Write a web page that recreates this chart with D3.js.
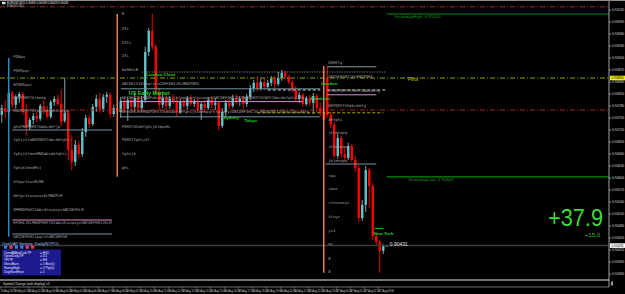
<!DOCTYPE html>
<html>
<head>
<meta charset="utf-8">
<script src="https://cdn.jsdelivr.net/npm/d3@7"></script>
<style>
body { margin: 0; background: #000; }
svg { display: block; }
</style>
</head>
<body>
<div id="chart"></div>
<script>
const width = 625
const height = 294
const axisX = 609
const chartTop = 2
const chartBottom = 279

// EURUSD M15 quotes, in points (1 point = 0.00001)
const opens = [90758, 90775, 90765, 90813, 90783, 90803, 90810, 90765, 90728, 90745,
    90755, 90748, 90780, 90770, 90753, 90790, 90798, 90785, 90743, 90763,
    90670, 90640, 90683, 90660, 90715, 90750, 90735, 90778, 90798, 90773,
    90803, 90808, 90760, 90775, 90765, 90793, 90773, 90795, 90778, 90800,
    90775, 90795, 90915, 90968, 90928, 90815, 90783, 90800, 90780, 90798,
    90793, 90765, 90790, 90780, 90798, 90785, 90793, 90770, 90785, 90775,
    90795, 90783, 90788, 90730, 90765, 90788, 90780, 90800, 90790, 90798,
    90785, 90803, 90825, 90838, 90823, 90840, 90828, 90838, 90848, 90835,
    90850, 90863, 90853, 90840, 90820, 90798, 90808, 90785, 90800, 90788,
    90805, 90775, 90763, 90850, 90758, 90733, 90655, 90700, 90660, 90650,
    90680, 90645, 90625, 90500, 90533, 90620, 90580, 90455, 90440, 90418,
    90430]
const highs = [90783, 90795, 90820, 90818, 90808, 90815, 90815, 90785, 90750, 90763,
    90765, 90785, 90795, 90780, 90795, 90805, 90808, 90820, 90850, 90768,
    90708, 90695, 90693, 90725, 90758, 90758, 90785, 90808, 90813, 90810,
    90815, 90813, 90783, 90785, 90803, 90800, 90800, 90803, 90813, 90805,
    90805, 90928, 90975, 91010, 90935, 90825, 90808, 90808, 90805, 90810,
    90803, 90798, 90800, 90805, 90808, 90798, 90800, 90790, 90795, 90803,
    90805, 90800, 90793, 90775, 90795, 90798, 90808, 90810, 90805, 90805,
    90810, 90833, 90845, 90853, 90848, 90850, 90845, 90855, 90855, 90865,
    90870, 90868, 90858, 90845, 90830, 90815, 90813, 90805, 90808, 90813,
    90810, 90788, 90770, 90880, 90765, 90740, 90710, 90705, 90680, 90688,
    90685, 90655, 90633, 90545, 90630, 90625, 90588, 90460, 90445, 90435,
    90433]
const lows = [90738, 90750, 90753, 90775, 90773, 90788, 90758, 90708, 90720, 90735,
    90740, 90743, 90760, 90748, 90748, 90780, 90780, 90730, 90738, 90645,
    90620, 90630, 90650, 90653, 90703, 90725, 90730, 90765, 90763, 90765,
    90788, 90750, 90753, 90758, 90750, 90765, 90743, 90770, 90765, 90765,
    90765, 90788, 90905, 90920, 90810, 90770, 90775, 90770, 90773, 90785,
    90753, 90760, 90775, 90770, 90780, 90778, 90763, 90745, 90765, 90770,
    90775, 90770, 90718, 90725, 90755, 90773, 90775, 90783, 90780, 90775,
    90778, 90795, 90815, 90815, 90818, 90820, 90823, 90830, 90825, 90830,
    90843, 90848, 90835, 90813, 90793, 90788, 90778, 90780, 90780, 90760,
    90765, 90755, 90740, 90750, 90725, 90650, 90648, 90650, 90643, 90645,
    90640, 90615, 90490, 90493, 90515, 90525, 90445, 90433, 90363, 90410,
    90428]
const closes = [90775, 90765, 90813, 90783, 90803, 90810, 90765, 90728, 90745, 90755,
    90748, 90780, 90770, 90753, 90790, 90798, 90785, 90740, 90763, 90670,
    90640, 90683, 90660, 90715, 90750, 90735, 90778, 90798, 90773, 90803,
    90808, 90760, 90775, 90765, 90793, 90773, 90795, 90778, 90800, 90775,
    90795, 90915, 90968, 90928, 90820, 90783, 90800, 90780, 90798, 90793,
    90765, 90790, 90780, 90798, 90785, 90793, 90770, 90785, 90775, 90795,
    90783, 90788, 90730, 90765, 90788, 90780, 90800, 90790, 90798, 90785,
    90803, 90825, 90838, 90823, 90840, 90828, 90838, 90848, 90835, 90850,
    90863, 90853, 90840, 90820, 90798, 90808, 90785, 90800, 90788, 90805,
    90775, 90763, 90745, 90758, 90733, 90655, 90700, 90660, 90650, 90680,
    90645, 90625, 90500, 90533, 90620, 90580, 90455, 90440, 90418, 90430,
    90431]

const priceTicks = [91020, 90990, 90960, 90930, 90900, 90870, 90840, 90810, 90780, 90750,
    90720, 90690, 90660, 90630, 90600, 90570, 90540, 90510, 90480, 90450, 90420, 90390, 90360]
const pivotPrice = 90850
const bidPrice = 90431
const yHigh = 91010
const yLow = 90603

// one label every 4 bars
const timeLabels = ["26 Aug 2013", "26 Aug 01:00", "26 Aug 02:00", "26 Aug 03:00", "26 Aug 04:00",
    "26 Aug 05:00", "26 Aug 06:00", "26 Aug 07:00", "26 Aug 08:00", "26 Aug 09:00", "26 Aug 10:00",
    "26 Aug 11:00", "26 Aug 12:00", "26 Aug 13:00", "26 Aug 14:00", "26 Aug 15:00", "26 Aug 16:00",
    "26 Aug 17:00", "26 Aug 18:00", "26 Aug 19:00", "26 Aug 20:00", "26 Aug 21:00", "26 Aug 22:00",
    "26 Aug 23:00", "27 Aug 00:00", "27 Aug 01:00", "27 Aug 02:00", "27 Aug 03:00"]

// horizontal objects: price, first bar, last bar, kind
const levels = [
    [91028, -0.5, 173.5, "redDash"],
    [yHigh, 110, 173.5, "green"],
    [90878, 93, 107, "gray"],
    [90865, 40, 110, "dotted"],
    [pivotPrice, -0.5, 173.5, "pivot"],
    [90823, 34, 91, "slate"],
    [90820, 76, 91, "lightDash"],
    [90820, 93, 110, "lightDash"],
    [90808, 93, 107, "pink"],
    [90791, 34, 86, "pink"],
    [90770, -0.5, 173.5, "redDash"],
    [90763, 73, 109, "yellowDash"],
    [90753, 34, 91, "slate"],
    [90720, 3, 31.5, "slate"],
    [90635, 92.5, 107, "slate"],
    [yLow, 110, 173.5, "green"],
    [90495, 3, 31.5, "pink"],
    [90460, 3, 31.5, "slate"],
    [90474, 106.5, 109, "session"],
    [bidPrice, -0.5, 173.5, "bid"]
]
// vertical objects: bar, top price, bottom price, kind
const verticals = [
    [33, 91010, 90603, "orange"],
    [92, 90880, 90363, "orange"],
    [2, 90900, 90453, "blue"]
]

const leftNotes = [[90903, "PQRpq"], [90868, "PQRSpqr"], [90833, "RPQRSpqr"], [90800, "PNOPQRSTklmnop"],
    [90768, "MNOPQRSTUVabcdefghklmnop"], [90728, "ghiPNOPQRSTUabcdefjp"], [90695, "fghijklmNOPQRSTabcdefghij"],
    [90660, "fghijklmnoMNOabcdefghij"], [90625, "fghiklmnoMij"], [90590, "efpqrstuvMLMN"],
    [90555, "defgrstuvwxyzKLMNOPLM"], [90520, "GMMNOPWXYZabcdtuvwxyzABCDEFKLM"],
    [90488, "EFGHIJKLMNOPQRSTUVabcdtuvwxyzABCDEFGHIJKLM"], [90453, "ABCDEFGHIJpqrstABCDEFGH"]]
const midNotes = [[91010, "8"], [90973, "23i"], [90938, "23Ii"], [90905, "23i"], [90870, "&eGHiLB"],
    [90835, "ABCDE12345pqrstuCDEFGHIJKLMNOPQRS"],
    [90800, "EEFGHIJKLMNOPabcdefghijklmnopqrstuvwxyzABCDEFGHIJKLMNOPQRSTUVWXYZabcdefghijklm"],
    [90765, "DEFGHIJKLMNOPQRSTUVWXabcdefghijklmnopqrstuvwxyzABCDEFGHIJKLMNOPQRSTUVWXYZabcdefg"],
    [90728, "PQRSTUVdefghijklmpnKL"], [90695, "PQRSTfghijkl"], [90660, "fghijk"], [90625, "ghi"]]
const rightNotes = [[90888, "DQRSTg"], [90853, "ABCDEFGHIJKLMNOPQRS"], [90818, "LMNOPQRSTUVWXYZabcdefg"],
    [90780, "NOPQRSTUVabcdefg"], [90745, "defghi"], [90713, "jklmnopq"], [90678, "jklmnopq"],
    [90643, "jklmnopq"], [90605, "rpw"], [90573, "rpwx"], [90538, "rstuvwxyz"], [90503, "stuyz"],
    [90468, "yz4"], [90435, "wz"], [90398, "8"], [90365, "8"]]
const sessions = [[41, 90860, "London Close"], [36, 90813, "US Early Market"], [63, 90753, "Sydney"],
    [69, 90745, "Tokyo"], [91, 90838, "London"], [88, 90800, "Frankfurt"], [106, 90463, "New York"]]

const settingNames = ["OverAllAndCalcTF", "OpenDailyTF", "TF/TF", "iSessBars", "SwingHigh", "DayStartHour"]
const settingValues = ["= H01", "= D1", "= H4", "= 1 Bar(s)", "= 2 Pip(s)", "= 2"]
const settingFlags = ["#2f7bff", "#ff2f6a", "#2f7bff", "#2f7bff", "#ff2fa0", "#ff2f4a"]

const pipsTotal = "+37.9"
const pipsBar = "+15.0"

const lineStyles = {
    redDash: { stroke: "#a8241c", dash: "5,2,1,2", w: 1 },
    pivot: { stroke: "#9c9c00", dash: "5,2,1,2", w: 1 },
    green: { stroke: "#0a8a0a", dash: null, w: 1.2 },
    session: { stroke: "#22c822", dash: null, w: 1 },
    gray: { stroke: "#8a9aa0", dash: null, w: 1 },
    dotted: { stroke: "#9a9a9a", dash: "1,1.5", w: 1 },
    slate: { stroke: "#6f95a3", dash: null, w: 1 },
    lightDash: { stroke: "#d0d0d0", dash: "3,2", w: 1 },
    pink: { stroke: "#d98ad6", dash: null, w: 1 },
    yellowDash: { stroke: "#a8a800", dash: "3,2", w: 1 },
    bid: { stroke: "#3c3c3c", dash: null, w: 1.5 },
    orange: { stroke: "#f5875a", dash: null, w: 1.4 },
    blue: { stroke: "#2391cf", dash: null, w: 1.4 }
}

const svg = d3.select("#chart")
    .append("svg")
    .attr("width", width)
    .attr("height", height)
svg.append("rect").attr("width", width).attr("height", height).attr("fill", "#000")

const x = d3.scaleLinear().domain([-0.5, 173.5]).range([0, axisX])
const y = d3.scaleLinear().domain([90310, 91045]).range([height, 0])

svg.append("clipPath").attr("id", "plot")
    .append("rect").attr("x", 0).attr("y", chartTop).attr("width", axisX).attr("height", chartBottom - chartTop)
const plot = svg.append("g").attr("clip-path", "url(#plot)")

drawCandles()
drawLevels()
drawNotes()
drawInfoPanel()
drawPriceAxis()
drawTimeAxis()
drawHeader()

function drawCandles() {
    const bars = opens.map((o, i) => ({ i: i, o: o, h: highs[i], l: lows[i], c: closes[i] }))
    plot.selectAll(".wick")
        .data(bars)
        .join("line")
        .attr("class", "wick")
        .attr("x1", d => x(d.i))
        .attr("x2", d => x(d.i))
        .attr("y1", d => y(d.h))
        .attr("y2", d => y(d.l))
        .attr("stroke", d => d.c >= d.o ? "#8fb5bb" : "#ff0000")
        .attr("stroke-width", 0.9)
    plot.selectAll(".body")
        .data(bars)
        .join("rect")
        .attr("class", "body")
        .attr("x", d => x(d.i) - 1.2)
        .attr("width", 2.4)
        .attr("y", d => y(Math.max(d.o, d.c)))
        .attr("height", d => Math.max(0.8, Math.abs(y(d.o) - y(d.c))))
        .attr("fill", d => d.c >= d.o ? "#5fc3cc" : "#ff0000")
}

function drawLevels() {
    levels.forEach(([price, from, to, kind]) => {
        const s = lineStyles[kind]
        plot.append("line")
            .attr("x1", x(from)).attr("x2", x(to))
            .attr("y1", y(price)).attr("y2", y(price))
            .attr("stroke", s.stroke)
            .attr("stroke-width", s.w)
            .attr("stroke-dasharray", s.dash)
    })
    verticals.forEach(([bar, top, bottom, kind]) => {
        const s = lineStyles[kind]
        plot.append("line")
            .attr("x1", x(bar)).attr("x2", x(bar))
            .attr("y1", y(top)).attr("y2", y(bottom))
            .attr("stroke", s.stroke)
            .attr("stroke-width", s.w)
    })
    // labels of daily levels
    addText(plot, `YesterdayHigh: ${(yHigh / 1e5).toFixed(5)}`, x(112), y(yHigh) + 4, 4.4, "#1c9a1c", "Liberation Sans")
    addText(plot, `YesterdayLow: ${(yLow / 1e5).toFixed(5)}`, x(116), y(yLow) + 4, 4.4, "#1c9a1c", "Liberation Sans")
    addText(plot, "Pivot", x(116), y(pivotPrice) + 2.5, 4.6, "#c8c800", "Liberation Sans")
}

function drawNotes() {
    const noteColumns = [[3, leftNotes], [34, midNotes], [93, rightNotes]]
    noteColumns.forEach(([bar, notes]) => {
        notes.forEach(([price, txt]) => {
            addText(plot, txt, x(bar) + 1, y(price) + 1.4, 3.9, "#a2a2a2", "DejaVu Sans Mono")
        })
    })
    sessions.forEach(([bar, price, txt]) => {
        const big = txt == "US Early Market"
        addText(plot, txt, x(bar) + 1, y(price) + 2, big ? 5.4 : 4.4, "#26d126", "Liberation Sans")
            .attr("font-weight", "bold")
    })
    addText(plot, `0.${String(bidPrice)}`, x(110) + 3, y(bidPrice), 5, "#e0e0e0", "Liberation Sans")
    // pips counter
    addText(svg, pipsTotal, axisX - 6, 226, 24.5, "#37dc37", "Liberation Sans")
        .attr("text-anchor", "end")
        .attr("textLength", 55)
        .attr("lengthAdjust", "spacingAndGlyphs")
    addText(svg, pipsBar, axisX - 9, 236.5, 6, "#2fbf2f", "Liberation Sans")
        .attr("text-anchor", "end")
}

function drawInfoPanel() {
    addText(svg, "OneDAY Setting: Daily(NYPO)", 2, 244.5, 4.2, "#9fc4ff", "Liberation Sans")
    svg.selectAll(".flag")
        .data(settingFlags)
        .join("rect")
        .attr("class", "flag")
        .attr("x", (d, i) => 4 + i * 5.4)
        .attr("y", 245.5)
        .attr("width", 3.2)
        .attr("height", 3.2)
        .attr("fill", d => d)
    svg.append("rect")
        .attr("x", 2).attr("y", 249.5).attr("width", 59).attr("height", 26)
        .attr("fill", "#1b1b8f")
    settingNames.forEach((name, i) => {
        addText(svg, name, 4, 253.5 + i * 3.9, 3.3, "#e8e8ff", "Liberation Sans")
        addText(svg, settingValues[i], 40, 253.5 + i * 3.9, 3.3, "#e8e8ff", "Liberation Sans")
    })
}

function drawPriceAxis() {
    svg.append("line")
        .attr("x1", axisX).attr("x2", axisX).attr("y1", 0).attr("y2", 287)
        .attr("stroke", "#c8c8c8").attr("stroke-width", 0.8)
    svg.selectAll(".ptick")
        .data(priceTicks)
        .join("line")
        .attr("class", "ptick")
        .attr("x1", axisX).attr("x2", axisX + 2)
        .attr("y1", d => y(d)).attr("y2", d => y(d))
        .attr("stroke", "#c8c8c8").attr("stroke-width", 0.7)
    svg.selectAll(".plabel")
        .data(priceTicks)
        .join("text")
        .attr("class", "plabel")
        .attr("x", axisX + 3)
        .attr("y", d => y(d) + 1.2)
        .attr("font-size", 3.4)
        .attr("font-family", "Liberation Sans")
        .attr("fill", "#d8d8d8")
        .text(d => (d / 1e5).toFixed(5))
    // pivot and bid tags
    const tags = [[pivotPrice, "#f0f000"], [bidPrice, "#ffffff"]]
    tags.forEach(([price, colour]) => {
        svg.append("rect")
            .attr("x", axisX + 1).attr("y", y(price) - 2.3)
            .attr("width", 15).attr("height", 4.6)
            .attr("fill", colour)
        addText(svg, (price / 1e5).toFixed(5), axisX + 2.5, y(price) + 1.3, 3.4, "#000", "Liberation Sans")
    })
}

function drawTimeAxis() {
    svg.append("line").attr("x1", 0).attr("x2", axisX).attr("y1", 280).attr("y2", 280)
        .attr("stroke", "#e8e8e8").attr("stroke-width", 1.2)
    addText(svg, "Symbol Change (with display) v3", 3, 284.5, 3.2, "#dcdcdc", "Liberation Sans")
    svg.append("rect").attr("x", axisX + 2).attr("y", 281.5).attr("width", 2).attr("height", 4).attr("fill", "#9a9a9a")
    svg.append("line").attr("x1", 0).attr("x2", axisX).attr("y1", 287).attr("y2", 287)
        .attr("stroke", "#8a8a8a").attr("stroke-width", 0.8)
    svg.selectAll(".tlabel")
        .data(timeLabels)
        .join("text")
        .attr("class", "tlabel")
        .attr("x", (d, i) => x(i * 4) - 1)
        .attr("y", 291.5)
        .attr("font-size", 2.6)
        .attr("font-family", "Liberation Sans")
        .attr("fill", "#d0d0d0")
        .text(d => d)
    svg.selectAll(".ttick")
        .data(timeLabels)
        .join("line")
        .attr("class", "ttick")
        .attr("x1", (d, i) => x(i * 4) - 1.5).attr("x2", (d, i) => x(i * 4) - 1.5)
        .attr("y1", 287).attr("y2", 289)
        .attr("stroke", "#a0a0a0").attr("stroke-width", 0.5)
}

function drawHeader() {
    svg.append("rect").attr("width", width).attr("height", 1).attr("fill", "#8c8c8c")
    svg.append("rect").attr("x", 2).attr("y", 1.8).attr("width", 3.5).attr("height", 2.4).attr("fill", "#e0e0e0")
    const last = opens.length - 1
    const quote = [opens[last], highs[last], lows[last], closes[last]].map(d => (d / 1e5).toFixed(5)).join(" ")
    addText(svg, `EURUSD,M15  ${quote}`, 7, 4, 2.8, "#e6e6e6", "Liberation Sans")
    addText(svg, "EURUSD,M15", 7, 7, 2.6, "#bdbdbd", "Liberation Sans")
}

function addText(parent, txt, xPos, yPos, size, colour, family) {
    return parent.append("text")
        .attr("x", xPos)
        .attr("y", yPos)
        .attr("font-size", size)
        .attr("font-family", family)
        .attr("fill", colour)
        .text(txt)
}
</script>
</body>
</html>
